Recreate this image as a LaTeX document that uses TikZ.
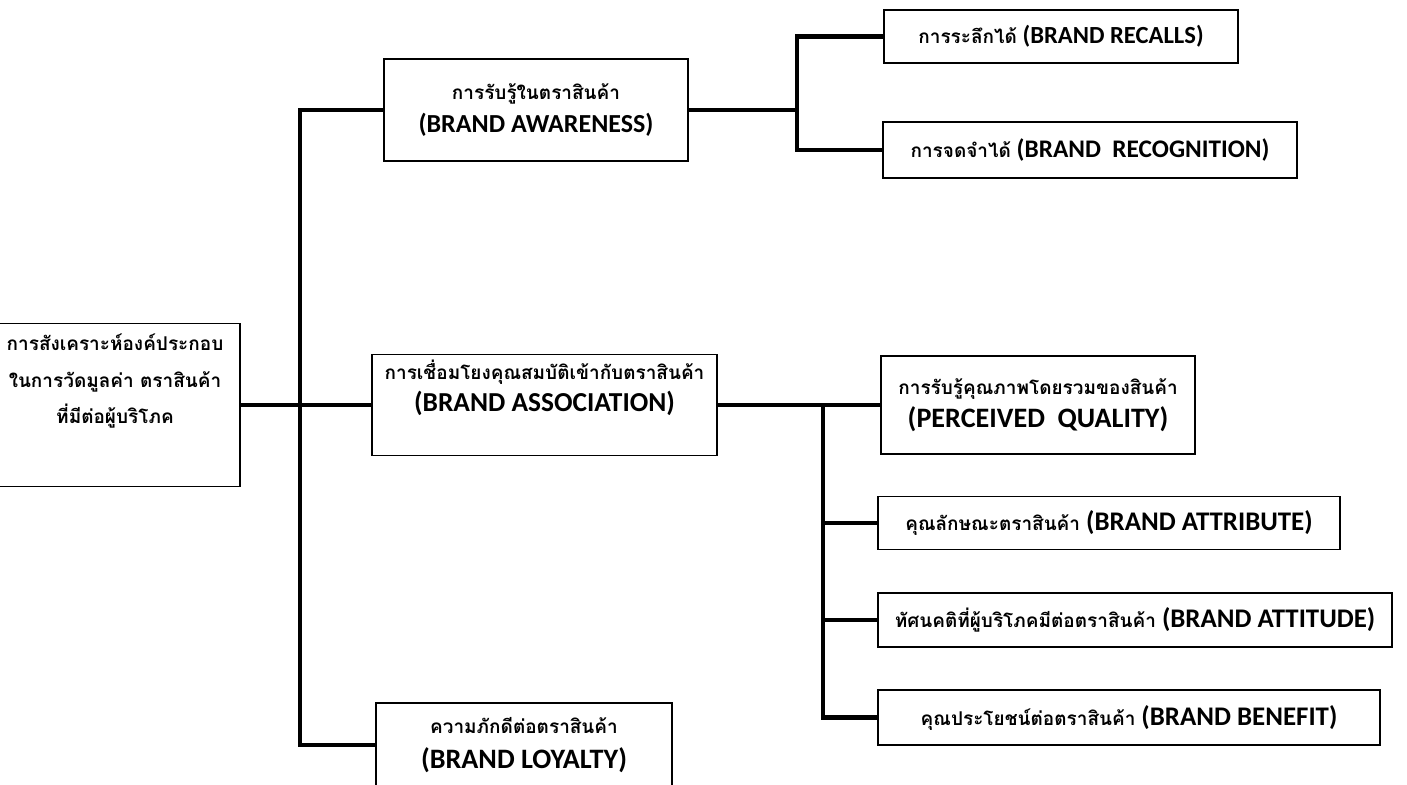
\documentclass[tikz,border=0pt]{standalone}
\usepackage{fontspec}
\setmainfont{Carlito}
\newfontfamily\thaifont[Script=Thai]{Loma}
\newcommand{\thai}[1]{{\thaifont\fontsize{10.8}{14}\selectfont #1}}

\tikzset{
  txt/.style={align=center, font=\bfseries\fontsize{#1}{19}\selectfont},
  txt/.default=15,
  box/.style={draw, line width=0.9pt, inner sep=0pt, txt=#1},
  box/.default=15,
  link/.style={line width=2.6pt},
}

\begin{document}
\begin{tikzpicture}[x=0.2mm, y=-0.2mm]
\useasboundingbox (0,0) rectangle (1407,785);

% main branches
\node[box, minimum width=50mm, minimum height=32.6mm,
  label={[txt, yshift=4.8mm]center:{\thai{การสังเคราะห์องค์ประกอบ}\\[2pt]
  \thai{ในการวัดมูลค่า ตราสินค้า}\\[1pt]\thai{ที่มีต่อผู้บริโภค}}}] (root) at (115,405) {};
\node[box=14.8, minimum width=60.8mm, minimum height=20.4mm] (aware) at (536,110)
  {\thai{การรับรู้ในตราสินค้า}\\(BRAND AWARENESS)};
\node[box, minimum width=69mm, minimum height=20.2mm,
  label={[txt=15.6, yshift=3.4mm]center:{\thai{การเชื่อมโยงคุณสมบัติเข้ากับตราสินค้า}\\[-1pt](BRAND ASSOCIATION)}}] (assoc) at (544.5,405) {};
\node[box=16, minimum width=59.2mm, minimum height=16.8mm] (loyal) at (524,745)
  {\thai{ความภักดีต่อตราสินค้า}\\[1pt](BRAND LOYALTY)};

% awareness
\node[box=14, minimum width=70.8mm, minimum height=10.6mm] (recall) at (1061,36.5)
  {\thai{การระลึกได้} (BRAND RECALLS)};
\node[box=14.4, minimum width=82.8mm, minimum height=11.2mm] (recog) at (1090,150)
  {\thai{การจดจำได้} (BRAND\ \ RECOGNITION)};

% association
\node[box=16, minimum width=62.8mm, minimum height=19.6mm] (pq) at (1038,405)
  {\thai{การรับรู้คุณภาพโดยรวมของสินค้า}\\(PERCEIVED\ \ QUALITY)};
\node[box=15.3, minimum width=92.4mm, minimum height=10.6mm] (attr) at (1109,523)
  {\thai{คุณลักษณะตราสินค้า} (BRAND ATTRIBUTE)};
\node[box=15.3, minimum width=102.8mm, minimum height=10.8mm] (atti) at (1135,620)
  {\thai{ทัศนคติที่ผู้บริโภคมีต่อตราสินค้า} (BRAND ATTITUDE)};
\node[box=15.3, minimum width=100.4mm, minimum height=11mm] (bene) at (1129,717.5)
  {\thai{คุณประโยชน์ต่อตราสินค้า} (BRAND BENEFIT)};

\coordinate (trunk) at (300,405);
\coordinate (asplit) at (797,110);
\coordinate (bsplit) at (823,405);

\draw[link] (root.east) -- (assoc.west);
\draw[link] (aware.west) -| (trunk) |- (loyal.west);
\draw[link] (aware.east) -- (asplit);
\draw[link] (recall.west) -| (asplit) |- (recog.west);
\draw[link] (assoc.east) -- (pq.west);
\draw[link] (bsplit) |- (bene.west);
\foreach \n in {attr,atti}
  \draw[link] (\n.west) -- (\n.west -| bsplit);
\end{tikzpicture}
\end{document}
